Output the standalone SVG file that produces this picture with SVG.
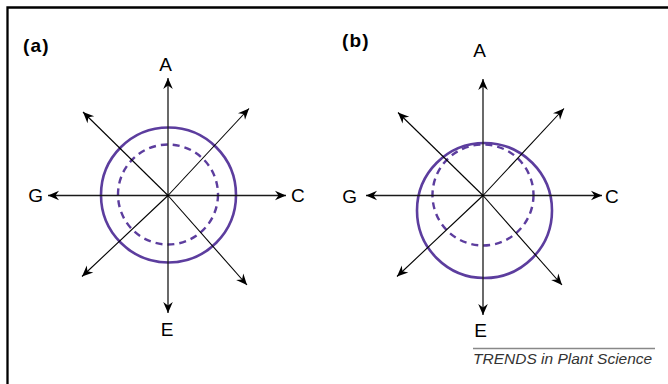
<svg xmlns="http://www.w3.org/2000/svg" width="668" height="384" viewBox="0 0 668 384">
<defs>
<marker id="ah" viewBox="-12 -6 14 12" refX="0" refY="0" markerWidth="14" markerHeight="12" markerUnits="userSpaceOnUse" orient="auto">
<path d="M0,0 L-11,-4.8 L-7.5,0 L-11,4.8 Z" fill="#000"/>
</marker>
<style>
.ax{stroke:#1a1a1a;stroke-width:1.3;fill:none;marker-end:url(#ah)}
.dg{stroke:#000;stroke-width:1.1;fill:none;marker-end:url(#ah)}
.sol{fill:none;stroke:#5c3d9e;stroke-width:2.6}
.dsh{fill:none;stroke:#5c3d9e;stroke-width:2.4;stroke-dasharray:7 5}
.lbl{font-family:"Liberation Sans",Arial,sans-serif;font-size:19px;fill:#000}
.pl{font-family:"Liberation Sans",Arial,sans-serif;font-size:19px;font-weight:bold;letter-spacing:1.2px;fill:#000}
.cr{font-family:"Liberation Sans",Arial,sans-serif;font-size:15.5px;font-style:italic;fill:#333}
</style>
</defs>
<rect x="0" y="0" width="668" height="384" fill="#fff"/>
<path d="M7.5,384 V7.5 H668" fill="none" stroke="#000" stroke-width="2.3"/>

<g id="panel-a">
<text class="pl" x="23" y="52">(a)</text>
<g id="a-circles">
<circle class="sol" cx="168.5" cy="195" r="67.5"/>
<circle class="dsh" cx="168" cy="194.5" r="50"/>
</g>
<g id="a-connectors">
<line class="ax" x1="168" y1="195.5" x2="168" y2="78"/>
<line class="ax" x1="168" y1="195.5" x2="168" y2="313"/>
<line class="ax" x1="168" y1="195.5" x2="48" y2="195.5"/>
<line class="ax" x1="168" y1="195.5" x2="286" y2="195.5"/>
<line class="dg" x1="168" y1="195.5" x2="83" y2="112"/>
<line class="dg" x1="168" y1="195.5" x2="249" y2="108.5"/>
<line class="dg" x1="168" y1="195.5" x2="82" y2="276.5"/>
<line class="dg" x1="168" y1="195.5" x2="247" y2="285"/>
</g>
<g id="a-labels">
<text class="lbl" x="165.7" y="71" text-anchor="middle">A</text>
<text class="lbl" x="167" y="335.5" text-anchor="middle">E</text>
<text class="lbl" x="43" y="202" text-anchor="end">G</text>
<text class="lbl" x="291" y="202">C</text>
</g>
</g>

<g id="panel-b">
<text class="pl" x="342" y="47">(b)</text>
<g id="b-circles">
<circle class="sol" cx="484.5" cy="210.5" r="67.5"/>
<circle class="dsh" cx="483" cy="195" r="50.5"/>
</g>
<g id="b-connectors">
<line class="ax" x1="483" y1="195.5" x2="483" y2="79"/>
<line class="ax" x1="483" y1="195.5" x2="483" y2="315"/>
<line class="ax" x1="483" y1="195.5" x2="366" y2="195.5"/>
<line class="ax" x1="483" y1="195.5" x2="602" y2="195.5"/>
<line class="dg" x1="483" y1="195.5" x2="398" y2="112.5"/>
<line class="dg" x1="483" y1="195.5" x2="564" y2="108.5"/>
<line class="dg" x1="483" y1="195.5" x2="397" y2="276.5"/>
<line class="dg" x1="483" y1="195.5" x2="562" y2="285"/>
</g>
<g id="b-labels">
<text class="lbl" x="479.5" y="56.5" text-anchor="middle">A</text>
<text class="lbl" x="480.5" y="337" text-anchor="middle">E</text>
<text class="lbl" x="357" y="202.5" text-anchor="end">G</text>
<text class="lbl" x="605" y="202.5">C</text>
</g>
</g>

<g id="credit">
<line x1="473" y1="348.5" x2="655" y2="348.5" stroke="#888" stroke-width="1.5"/>
<text class="cr" x="473" y="364">TRENDS in Plant Science</text>
</g>
</svg>
